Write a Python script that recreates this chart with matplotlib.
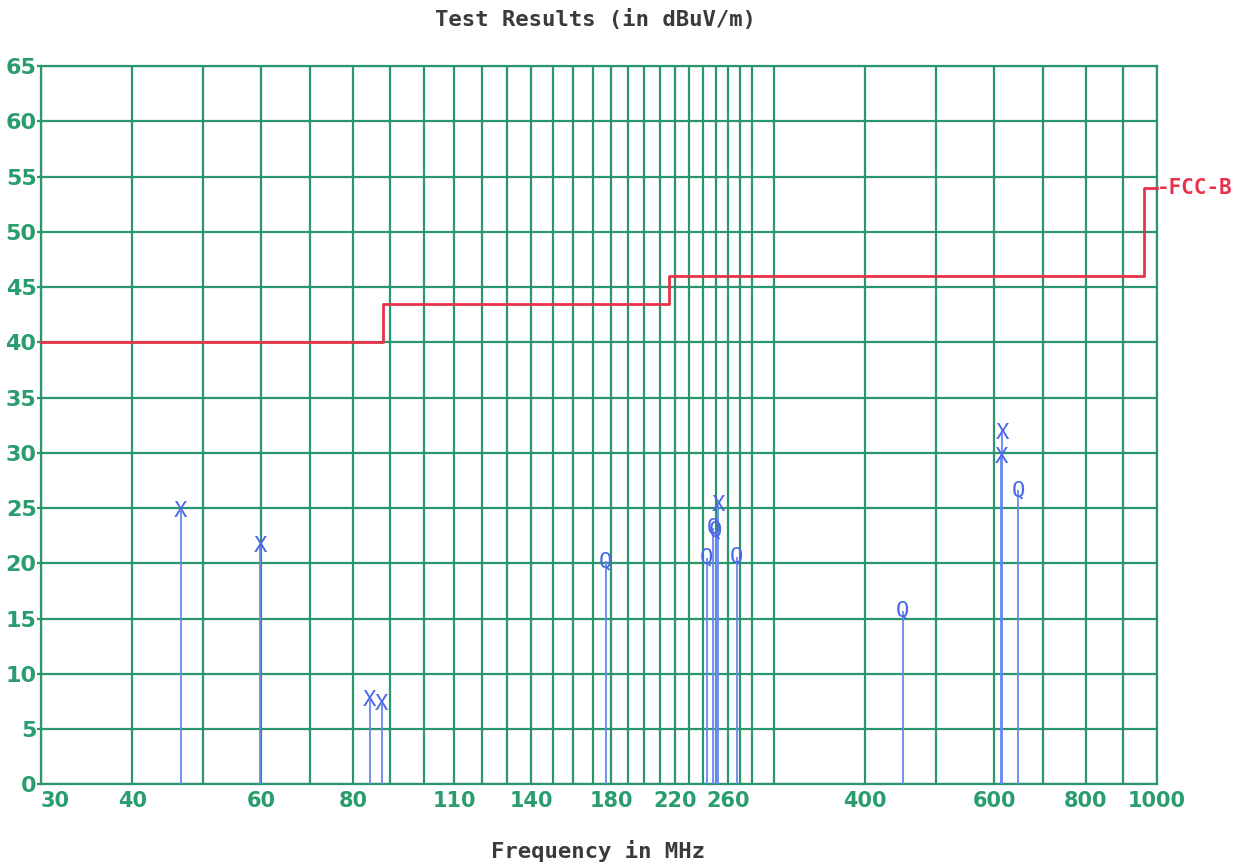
import numpy as np
import matplotlib
matplotlib.use("Agg")
import matplotlib.pyplot as plt

# ---- data ----
limit_freqs = [30, 88, 216, 960, 1000]
limit_levels = [40, 43.5, 46, 54, 54]

peak_freqs = [46.6, 59.8, 84.4, 87.6, 252.0, 615.0, 614.0]
peak_vals = [24.7, 21.6, 7.6, 7.3, 25.3, 31.8, 29.6]

qp_freqs = [177.0, 243.2, 248.3, 250.3, 267.1, 450.0, 647.0]
qp_vals = [20.2, 20.5, 23.2, 23.0, 20.6, 15.7, 26.6]

xtick_vals = [30, 40, 60, 80, 110, 140, 180, 220, 260, 400, 600, 800, 1000]
xtick_labels = ["30", "40", "60", "80", "110", "140", "180", "220", "260", "400", "600", "800", "1000"]
ytick_vals = list(range(0, 70, 5))

grid_freqs = ([30, 40, 50, 60, 70, 80, 90]
              + list(range(100, 290, 10))
              + [300, 400, 500, 600, 700, 800, 900, 1000])

# ---- style ----
GREEN = "#2a966c"
GREEN_TXT = "#2a9d6e"
RED = "#e8324c"
BLUE = "#4b68e6"
STEM = "#6a86f5"
MONO = "DejaVu Sans Mono"

fig = plt.figure(figsize=(12.54, 8.65), dpi=100)
ax = fig.add_axes([0.03246, 0.09329, 0.88995, 0.8304])
ax.set_xscale("log")
ax.set_xlim(30, 1000)
ax.set_ylim(0, 65)

# grid
for f in grid_freqs:
    ax.axvline(f, color=GREEN, lw=1.6, zorder=1)
for y in ytick_vals:
    ax.axhline(y, color=GREEN, lw=1.6, zorder=1)

for s in ax.spines.values():
    s.set_color(GREEN)
    s.set_linewidth(1.6)

# ticks
ax.minorticks_off()
ax.set_xticks(xtick_vals)
ax.set_xticklabels(xtick_labels)
ax.xaxis.set_minor_locator(matplotlib.ticker.NullLocator())
ax.set_yticks(ytick_vals)
ax.set_yticklabels([str(v) for v in ytick_vals])
ax.tick_params(axis="x", length=0, pad=5, labelsize=15, labelcolor=GREEN_TXT)
ax.tick_params(axis="y", length=3, width=1.6, color=GREEN, pad=0, labelsize=16, labelcolor=GREEN_TXT)
for lab in ax.get_xticklabels() + ax.get_yticklabels():
    lab.set_fontweight("bold")
    lab.set_fontfamily("DejaVu Sans")
ax.get_xticklabels()[0].set_horizontalalignment("left")

# limit line
ax.step(limit_freqs, limit_levels, where="post", color=RED, lw=2.0, zorder=4, clip_on=False)
ax.text(1000, 54, "-FCC-B", color=RED, fontsize=15, fontweight="bold", family=MONO,
        ha="left", va="center", clip_on=False)

# stems + markers
ax.vlines(peak_freqs, 0, peak_vals, color=STEM, lw=1.3, zorder=3)
ax.vlines(qp_freqs, 0, qp_vals, color=STEM, lw=1.3, zorder=3)
for f, v in zip(peak_freqs, peak_vals):
    ax.text(f, v, "X", color=BLUE, fontsize=16, family=MONO, ha="center", va="center", zorder=5)
for f, v in zip(qp_freqs, qp_vals):
    ax.text(f, v, "Q", color=BLUE, fontsize=16, family=MONO, ha="center", va="center", zorder=5)

fig.text(0.475, 0.977, "Test Results (in dBuV/m)", ha="center", va="center",
         fontsize=16, family=MONO, fontweight="bold", color="#3a3a3a")
fig.text(0.477, 0.016, "Frequency in MHz", ha="center", va="center",
         fontsize=16, family=MONO, fontweight="bold", color="#3a3a3a")

fig.savefig("out.png", dpi=100)
